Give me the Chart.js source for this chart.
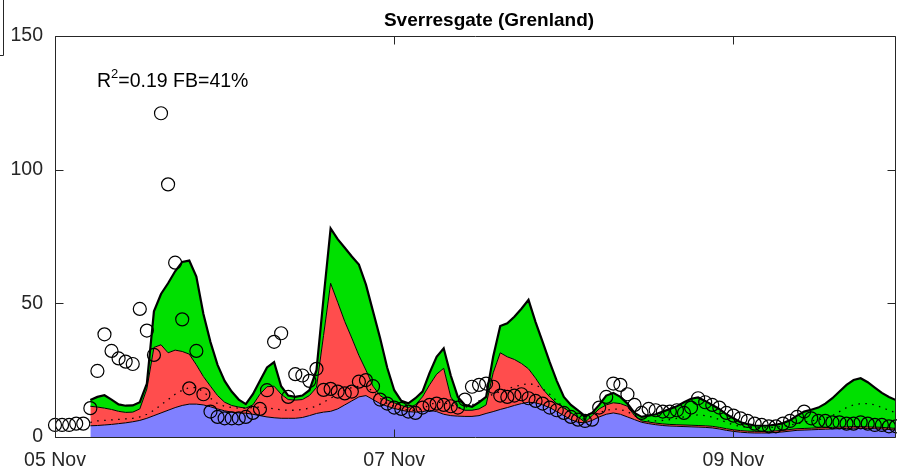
<!DOCTYPE html>
<html>
<head>
<meta charset="utf-8">
<script src="https://cdn.jsdelivr.net/npm/chart.js@4.4.1/dist/chart.umd.min.js"></script>
<style>
  html, body { margin: 0; padding: 0; background: #fff; }
</style>
</head>
<body>
<canvas id="chart" width="897" height="471"></canvas>
<script>
const chartTitle = 'Sverresgate (Grenland)'
const tickHours = [0, 48, 96]
const tickLabels = ['05 Nov', '07 Nov', '09 Nov']
const yTicks = [0, 50, 100, 150]
const modelStart = 5   // model series begin at hour 5

// observations, hourly from 05 Nov 00:00
const obs = [
    4.5, 4.5, 4.5, 5, 5, 10.8, 24.7, 38.4, 32.2, 29.4,
    28.2, 27.3, 47.9, 39.8, 30.7, 121.1, 94.5, 65.2, 44, 18.2,
    32.2, 16, 9.5, 7.5, 7, 7, 7, 7.5, 9, 10.5,
    17.5, 35.6, 38.8, 15, 23.5, 23, 21, 25.5, 17.6, 18,
    17, 16.3, 17, 20.7, 21.3, 19, 14, 12.5, 11, 10.5,
    9.5, 9, 11, 12, 12.5, 12, 11.5, 11, 14, 18.8,
    19.5, 20, 18.8, 15.5, 15, 15.5, 16, 14.5, 13.5, 12.5,
    11, 10, 9, 7.5, 6.5, 6, 6.5, 11, 15, 20,
    19.5, 16, 12, 9, 10.5, 10, 9.5, 9.5, 10, 9,
    11, 14.5, 13, 12, 11, 9, 8, 7, 6, 5,
    4.5, 4, 4, 5, 6, 7.5, 9.5, 7, 6, 6,
    5.5, 5.5, 5, 5, 5.5, 5, 4.5, 4.5, 4, 4
]

// stacked model levels (top of each layer), hourly from hour 5
const blueTop = [
    4.2, 4.3, 4.5, 4.7, 5, 5.3, 5.7, 6.2, 7, 8,
    9, 10, 11, 11.8, 12.3, 12.3, 12, 11.3, 10.5, 9.8,
    9.3, 9, 8.9, 8.5, 8, 7.5, 7.2, 7, 7, 7,
    7.3, 8, 8.8, 9.3, 9.6, 10.5, 12, 13.5, 15, 15.5,
    14, 12.5, 11.5, 10.7, 10, 9.5, 9.3, 9.5, 10, 9.5,
    8.5, 8, 7.8, 7.7, 7.7, 8, 8.8, 9.5, 10.3, 11,
    11.8, 12.5, 13, 12.8, 12, 11, 9.5, 8, 6.5, 5.5,
    5.3, 6.2, 7.5, 8.5, 9, 8.5, 7.5, 6.5, 5.5, 5,
    4.6, 4.3, 4.1, 4, 3.9, 3.8, 3.7, 3.6, 3.4, 3,
    2.5, 2.1, 1.8, 1.6, 1.5, 1.5, 1.5, 1.7, 1.9, 2.2,
    2.5, 2.6, 2.7, 2.8, 2.9, 3, 3.1, 3.2, 3.3, 3.3,
    3.2, 3.1, 3, 2.8, 2.6
]
const redTop = [
    11.5, 11.2, 10.8, 10.3, 9.6, 9.2, 9.3, 10.5, 18, 33.5,
    34.5, 31.5, 32.5, 32, 31, 27, 22.6, 19, 15.5, 13,
    11.8, 11.2, 10.8, 12, 16, 18.8, 19, 16, 14, 13.8,
    14, 15.5, 18.5, 38, 57.5, 50.4, 43.2, 37, 30.5, 25,
    19, 15.5, 13.8, 12.8, 11.8, 11, 12, 15, 19.5, 23.5,
    25.7, 15, 11, 10, 10, 10.5, 12, 24, 31.5, 30,
    29, 27.5, 25.5, 22, 18, 15, 12.5, 11, 9, 7.5,
    5.5, 8, 10.5, 12, 12.8, 12.5, 11.5, 8, 6, 5.6,
    5.2, 4.9, 4.7, 4.6, 4.5, 4.4, 4.3, 4.2, 4, 3.6,
    3.1, 2.7, 2.4, 2.2, 2.1, 2.1, 2.1, 2.3, 2.5, 2.8,
    3.1, 3.2, 3.3, 3.4, 3.5, 3.6, 3.7, 3.8, 3.9, 3.9,
    3.8, 3.7, 3.6, 3.4, 3.2
]
const greenTop = [
    13.8, 15, 15.6, 14, 12.2, 11.7, 11.8, 13, 20, 47,
    53.5, 57.5, 62, 65.5, 66, 60, 46, 35.5, 27, 21,
    17, 14, 12.3, 16, 21, 26, 28, 19, 15.5, 15,
    15.5, 17.5, 25, 52, 78, 74, 70.8, 67.5, 64.5, 57,
    47, 37, 26, 17.5, 13.5, 12.6, 14.5, 17, 24, 30,
    33.2, 23, 15, 12, 11.3, 13, 15, 30, 41.5, 42.5,
    45, 48, 51.3, 43, 35.6, 28, 21, 15, 12, 10,
    7.8, 9, 12, 15.5, 16.5, 15, 12.5, 9, 7.5, 8,
    8.5, 9.5, 10.5, 11.5, 13, 14.3, 14.8, 13.5, 12, 10.5,
    8.5, 7, 5.5, 4.8, 4.3, 4.2, 4.3, 4.6, 5.2, 6.3,
    8, 9.5, 10.2, 11, 12.5, 14.5, 17, 19.5, 21.3, 22,
    20.5, 18.5, 16.5, 15, 13.8
]
const dotted = [
    5.5, 6, 6.2, 6.4, 6.6, 6.8, 7, 7.5, 8.5, 10,
    12, 14, 16, 17.5, 18.5, 18.5, 17, 14.5, 12.5, 11.5,
    11, 10.8, 10.8, 11, 11.2, 11, 10.5, 10.2, 10, 10,
    10.3, 10.8, 11.5, 13, 14.5, 16, 17.5, 18.5, 19, 19,
    17, 14.5, 12.5, 11.5, 10.5, 10, 10, 10.5, 12, 13,
    13, 12, 11, 11, 12, 13.5, 15, 16, 17, 18,
    18.8, 19.5, 20, 19.5, 18, 16, 13.5, 11, 9, 7.5,
    6.5, 7.5, 9, 10, 10.5, 10.3, 9.5, 8, 6.5, 6,
    6, 6.2, 6.5, 7, 7.5, 8, 8.3, 8, 7.5, 6.5,
    5.5, 4.5, 4, 3.6, 3.5, 3.5, 3.5, 3.7, 4, 4.5,
    5, 5.5, 6, 6.5, 7, 8, 9.5, 11, 12, 12.5,
    12.5, 12, 11, 10, 9
]

const FONT = '"Liberation Sans", Arial, sans-serif'
const AXIS_COLOR = '#262626'

const model = arr => arr.map((v, i) => ({ x: modelStart + i, y: v }))

// box, inward ticks, title and score text
const frame = {
    id: 'frame',
    afterDatasetsDraw(chart) {
        const { ctx, chartArea: a, scales: { x, y } } = chart
        ctx.save()
        ctx.strokeStyle = AXIS_COLOR
        ctx.lineWidth = 1
        ctx.beginPath()
        const l = Math.round(a.left) + 0.5, r = Math.round(a.right) - 0.5
        const t = Math.round(a.top) + 0.5, b = Math.round(a.bottom) + 0.5
        ctx.rect(l, t, r - l, b - t)
        yTicks.forEach(v => {
            const py = Math.round(y.getPixelForValue(v)) + 0.5
            ctx.moveTo(l, py); ctx.lineTo(l + 8, py)
            ctx.moveTo(r, py); ctx.lineTo(r - 8, py)
        })
        tickHours.forEach(h => {
            const px = Math.round(x.getPixelForValue(h)) + 0.5
            ctx.moveTo(px, b); ctx.lineTo(px, b - 8)
            ctx.moveTo(px, t); ctx.lineTo(px, t + 8)
        })
        // edge of the neighbouring panel's box
        ctx.moveTo(3.5, 0); ctx.lineTo(3.5, 55.5); ctx.lineTo(0, 55.5)
        ctx.stroke()

        ctx.fillStyle = '#000'
        ctx.textBaseline = 'alphabetic'
        ctx.textAlign = 'center'
        ctx.font = 'bold 19px ' + FONT
        ctx.fillText(chartTitle, 489, 26)

        ctx.textAlign = 'left'
        ctx.font = '19.5px ' + FONT
        let px = 97
        ctx.fillText('R', px, 87)
        px += ctx.measureText('R').width
        ctx.font = '13px ' + FONT
        ctx.fillText('2', px, 78)
        px += ctx.measureText('2').width
        ctx.font = '19.5px ' + FONT
        ctx.fillText('=0.19 FB=41%', px, 87)
        ctx.restore()
    }
}

new Chart(document.getElementById('chart'), {
    type: 'line',
    data: {
        datasets: [
            {
                data: model(blueTop), fill: 'origin', backgroundColor: '#8080ff',
                borderColor: '#000', borderWidth: 1, pointRadius: 0, order: 4
            },
            {
                data: model(redTop), fill: '-1', backgroundColor: '#ff4d4d',
                borderColor: '#000', borderWidth: 1, pointRadius: 0, order: 3
            },
            {
                data: model(greenTop), fill: '-1', backgroundColor: '#00e000',
                borderColor: '#000', borderWidth: 2.2, pointRadius: 0, order: 2
            },
            {
                data: model(dotted), fill: false, borderColor: '#000', borderWidth: 1.3,
                borderDash: [1.5, 5.5], pointRadius: 0, order: 1
            },
            {
                data: obs.map((v, i) => ({ x: i, y: v })), showLine: false, clip: 10,
                pointRadius: 6.5, pointStyle: 'circle', pointBackgroundColor: 'rgba(0,0,0,0)',
                pointBorderColor: '#000', pointBorderWidth: 1.2, order: 0
            }
        ]
    },
    options: {
        responsive: false,
        animation: false,
        devicePixelRatio: 1,
        layout: { autoPadding: false, padding: { top: 36, right: 1, left: 0, bottom: 0 } },
        elements: { line: { tension: 0 } },
        plugins: {
            legend: { display: false },
            tooltip: { enabled: false },
            filler: { drawTime: 'beforeDatasetsDraw' }
        },
        scales: {
            x: {
                type: 'linear', min: 0, max: 119,
                grid: { display: false, drawTicks: false },
                border: { display: false },
                afterBuildTicks: s => { s.ticks = tickHours.map(v => ({ value: v })) },
                afterFit: s => { s.height = 34 },
                ticks: {
                    autoSkip: false, maxRotation: 0, padding: 12,
                    color: AXIS_COLOR, font: { family: FONT, size: 19.5 },
                    callback: v => tickLabels[tickHours.indexOf(v)] ?? ''
                }
            },
            y: {
                min: 0, max: 150,
                grid: { display: false, drawTicks: false },
                border: { display: false },
                afterBuildTicks: s => { s.ticks = yTicks.map(v => ({ value: v })) },
                afterFit: s => { s.width = 55 },
                ticks: { padding: 12, color: AXIS_COLOR, font: { family: FONT, size: 19.5 } }
            }
        }
    },
    plugins: [frame]
})
</script>
</body>
</html>
